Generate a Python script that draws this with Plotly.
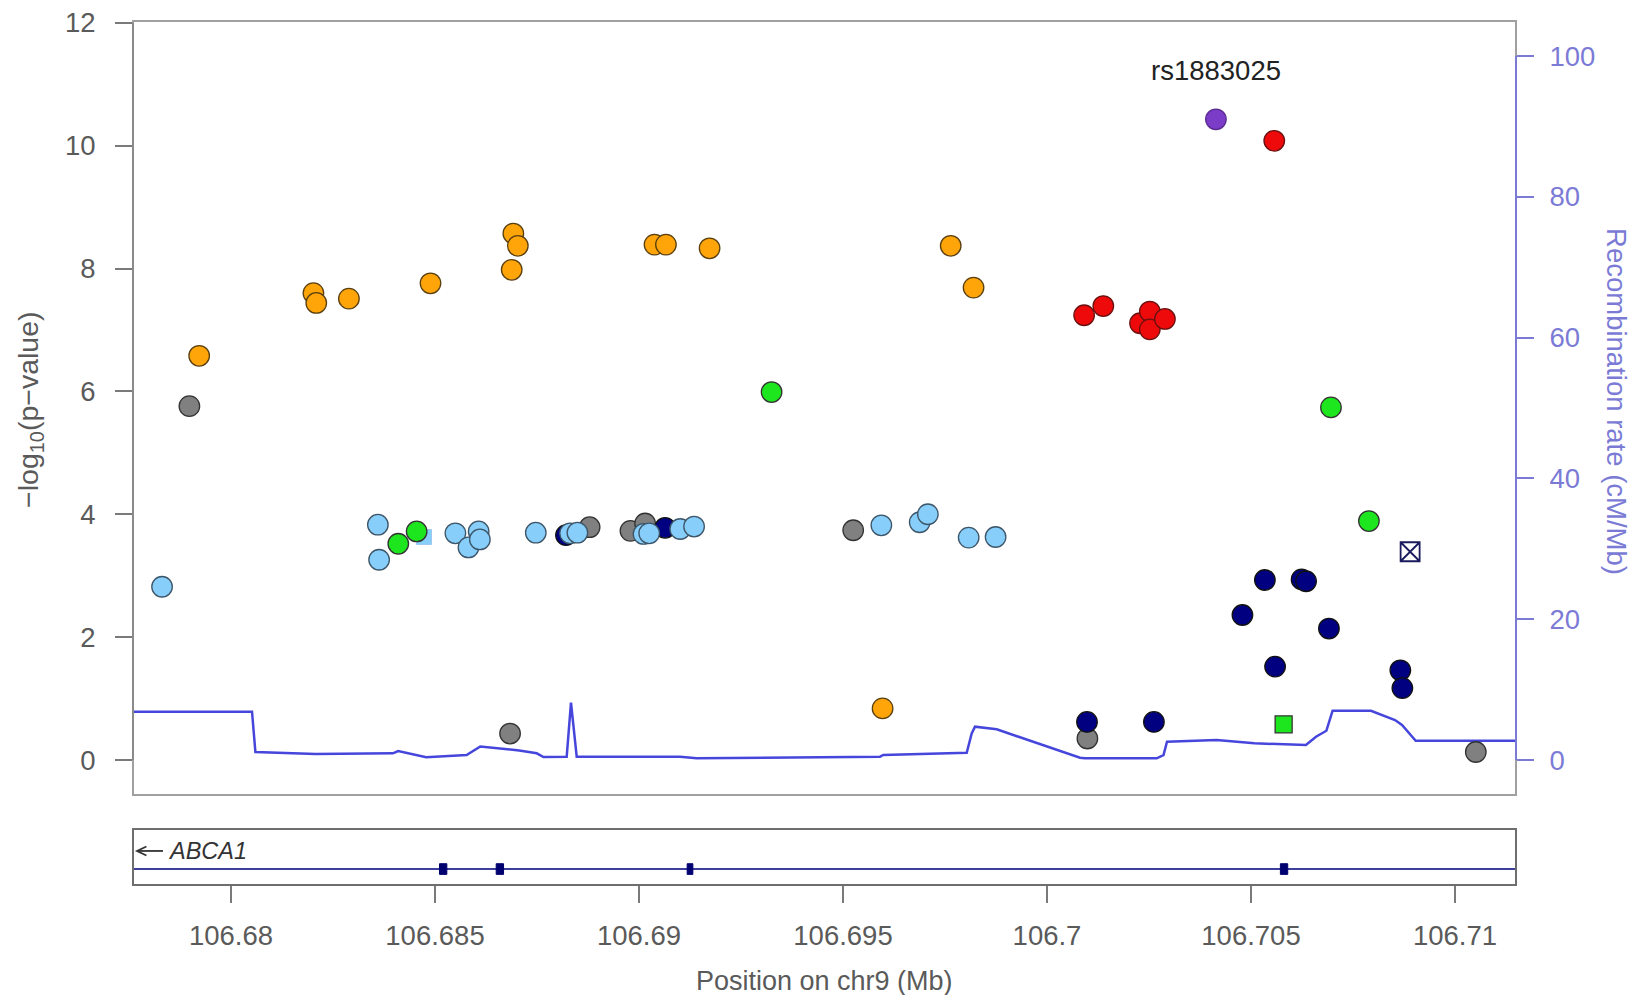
import plotly.graph_objects as go

# ---------------- data ----------------
gray_pos = [106.67898, 106.68684, 106.68879, 106.68979, 106.69015, 106.69525, 106.70099, 106.71051]
gray_logp = [5.76, 0.43, 3.79, 3.73, 3.85, 3.74, 0.35, 0.13]

navy_pos = [106.68821, 106.69064, 106.70098, 106.70262, 106.70479, 106.70534,
            106.70624, 106.70635, 106.70559, 106.70691, 106.70866, 106.70871]
navy_logp = [3.66, 3.78, 0.62, 0.62, 2.36, 2.93, 2.94, 2.91, 1.52, 2.14, 1.46, 1.17]

lb_pos = [106.67831, 106.68360, 106.68363, 106.68550, 106.68607, 106.68582, 106.68610,
          106.68747, 106.68831, 106.68849, 106.69011, 106.69025, 106.69101, 106.69135,
          106.69594, 106.69688, 106.69708, 106.69808, 106.69874]
lb_logp = [2.82, 3.83, 3.26, 3.69, 3.72, 3.46, 3.59, 3.70, 3.69, 3.70, 3.68, 3.69,
           3.76, 3.80, 3.82, 3.87, 4.00, 3.62, 3.63]

green_pos = [106.68410, 106.68455, 106.69325, 106.70696, 106.70789]
green_logp = [3.52, 3.72, 5.99, 5.74, 3.89]

orange_pos = [106.67922, 106.68202, 106.68209, 106.68289, 106.68489, 106.68692, 106.68703,
              106.68688, 106.69038, 106.69066, 106.69173, 106.69764, 106.69820, 106.69597]
orange_logp = [6.58, 7.60, 7.44, 7.51, 7.76, 8.57, 8.37, 7.98, 8.39, 8.39, 8.33, 8.37, 7.69, 0.84]

red_pos = [106.70091, 106.70138, 106.70228, 106.70252, 106.70252, 106.70289, 106.70557]
red_logp = [7.24, 7.39, 7.11, 7.30, 7.01, 7.18, 10.08]

lead_pos = [106.70414]
lead_logp = [10.43]
lead_name = "rs1883025"
lead_label_logp = 11.23

lb_sq_pos = [106.68473]
lb_sq_logp = [3.63]
green_sq_pos = [106.70580]
green_sq_logp = [0.58]
na_sq_pos = [106.70890]
na_sq_logp = [3.39]

recomb_pos = [106.6770, 106.680515, 106.680598, 106.682076, 106.683968, 106.684098, 106.684784,
              106.685775, 106.686110, 106.687064, 106.687493, 106.687659, 106.688228, 106.688333,
              106.688473, 106.691005, 106.691414, 106.695907, 106.695988, 106.698032, 106.698154,
              106.698235, 106.698767, 106.700809, 106.700931, 106.702689, 106.702855, 106.702941,
              106.704159, 106.705083, 106.706346, 106.706593, 106.706848, 106.707000, 106.707941,
              106.708529, 106.708701, 106.709037, 106.7120]
recomb_rate = [6.86, 6.86, 1.14, 0.85, 0.95, 1.28, 0.38, 0.71, 1.92, 1.35, 0.95, 0.43, 0.47, 8.14,
               0.47, 0.47, 0.24, 0.47, 0.71, 1.04, 3.79, 4.73, 4.36, 0.33, 0.24, 0.24, 0.71, 2.60,
               2.84, 2.37, 2.13, 3.31, 4.16, 7.00, 7.00, 5.68, 4.97, 2.74, 2.74]

gene_name = "ABCA1"
gene_start = 106.5831
gene_end = 106.7303
exon_start = [106.68511, 106.68650, 106.69118, 106.70572]
exon_end = [106.68529, 106.68668, 106.69132, 106.70590]

x_ticks = [106.68, 106.685, 106.69, 106.695, 106.70, 106.705, 106.71]
x_ticklabels = ["106.68", "106.685", "106.69", "106.695", "106.7", "106.705", "106.71"]
logp_ticks = [0, 2, 4, 6, 8, 10, 12]
recomb_ticks = [0, 20, 40, 60, 80, 100]

x_range = [106.677598, 106.711495]
logp_range = [-0.57, 12.03]
recomb_range = [-4.97, 104.97]

# ---------------- styling ----------------
FONT = "Liberation Sans, Arial, sans-serif"
TXT = "#5a5a5a"
BLUE_AX = "#7b7bd6"
FS = 27.5
MS = 20.5
EDGE = dict(color="#333333", width=1.3)

fig = go.Figure()

# recombination line (base subplot, drawn underneath the points)
fig.add_trace(go.Scatter(x=recomb_pos, y=recomb_rate, mode="lines", xaxis="x", yaxis="y",
                         line=dict(color="#4646dc", width=2.5), hoverinfo="skip", showlegend=False))

def pts(xs, ys, fill, symbol="circle", size=MS, line=EDGE):
    fig.add_trace(go.Scatter(x=xs, y=ys, mode="markers", xaxis="x", yaxis="y2",
                             marker=dict(color=fill, size=size, symbol=symbol, line=line),
                             showlegend=False))

pts(gray_pos, gray_logp, "#808080")
pts(navy_pos, navy_logp, "#000080", line=dict(color="#111111", width=1.3))
pts(lb_sq_pos, lb_sq_logp, "#87cefa", symbol="square", size=15, line=dict(color="#9fc8ef", width=1))
pts(lb_pos, lb_logp, "#87cefa", line=dict(color="#3c5568", width=1.3))
pts(green_pos, green_logp, "#1ee61e")
pts(green_sq_pos, green_sq_logp, "#1ee61e", symbol="square", size=17)
pts(orange_pos, orange_logp, "#ffa50a", line=dict(color="#5a4010", width=1.3))
pts(red_pos, red_logp, "#ee0a0a", line=dict(color="#6a1010", width=1.3))
pts(lead_pos, lead_logp, "#7b3cc8", line=dict(color="#5a2a90", width=1.3))
pts(na_sq_pos, na_sq_logp, "#1a1a5e", symbol="square-x-open", size=19,
    line=dict(color="#1a1a5e", width=1.8))

# gene panel
fig.add_trace(go.Scatter(x=[gene_start, gene_end], y=[0.286, 0.286], mode="lines",
                         xaxis="x2", yaxis="y3", line=dict(color="#3e3e9c", width=2),
                         hoverinfo="skip", showlegend=False))

shapes = []
for s, e in zip(exon_start, exon_end):
    shapes.append(dict(type="rect", xref="x2", yref="y3", x0=s, x1=e, y0=0.19, y1=0.38,
                       fillcolor="#000070", line=dict(color="#000070", width=1)))
# frames
shapes.append(dict(type="rect", xref="x domain", yref="y domain", x0=0, x1=1, y0=0, y1=1,
                   line=dict(color="#a0a0a0", width=2)))
shapes.append(dict(type="rect", xref="x2 domain", yref="y3 domain", x0=0, x1=1, y0=0, y1=1,
                   line=dict(color="#6e6e6e", width=2)))
# axis lines spanning the tick range (R style)
shapes.append(dict(type="line", xref="x domain", yref="y", x0=1, x1=1, y0=0, y1=100,
                   line=dict(color=BLUE_AX, width=2)))
shapes.append(dict(type="line", xref="x domain", yref="y2", x0=0, x1=0, y0=0, y1=12,
                   line=dict(color="#8a8a8a", width=2)))
# strand arrow (minus strand) next to the gene name
ax_tip, ax_len, ay_mid = 0.0029, 0.0188, 0.0394
shapes.append(dict(type="line", xref="paper", yref="paper", x0=ax_tip, x1=ax_tip + ax_len,
                   y0=ay_mid, y1=ay_mid, line=dict(color="#333333", width=1.8)))
shapes.append(dict(type="path", xref="paper", yref="paper",
                   path=f"M {ax_tip + 0.0068},{ay_mid + 0.0052} L {ax_tip},{ay_mid} "
                        f"L {ax_tip + 0.0068},{ay_mid - 0.0052}",
                   line=dict(color="#333333", width=1.8)))

annotations = [
    dict(xref="x", yref="y2", x=lead_pos[0], y=lead_label_logp, text=lead_name, showarrow=False,
         font=dict(family=FONT, size=FS, color="#222222")),
    dict(xref="paper", yref="paper", x=-0.0745, y=0.5498, text="\u2212log<sub>10</sub>(p\u2212value)",
         textangle=-90, showarrow=False, xanchor="center", yanchor="middle",
         font=dict(family=FONT, size=28.5, color=TXT)),
    dict(xref="paper", yref="paper", x=1.073, y=0.559, text="Recombination rate (cM/Mb)",
         textangle=90, showarrow=False, xanchor="center", yanchor="middle",
         font=dict(family=FONT, size=FS, color=BLUE_AX)),
    dict(xref="paper", yref="paper", x=0.5, y=-0.1106, text="Position on chr9 (Mb)",
         showarrow=False, xanchor="center", yanchor="middle",
         font=dict(family=FONT, size=27, color=TXT)),
    dict(xref="paper", yref="paper", x=0.0239, y=0.0394, text="<i>" + gene_name + "</i>",
         showarrow=False, xanchor="left", yanchor="middle",
         font=dict(family=FONT, size=23.5, color="#333333")),
]

# the page body adds an 8px margin, so the figure is 8px smaller than the window
fig.update_layout(
    width=1630, height=987,
    margin=dict(l=125, r=122, t=13, b=110, autoexpand=False),
    paper_bgcolor="white", plot_bgcolor="white",
    font=dict(family=FONT, size=FS, color=TXT),
    showlegend=False,
    xaxis=dict(domain=[0, 1], range=x_range, anchor="y", showticklabels=False, ticks="",
               showgrid=False, zeroline=False, showline=False, automargin=False),
    yaxis=dict(domain=[0.10417, 1], range=recomb_range, anchor="x", side="right",
               tickvals=recomb_ticks, ticks="outside", ticklen=17, tickwidth=1.5,
               tickcolor=BLUE_AX, tickfont=dict(family=FONT, size=FS, color=BLUE_AX),
               ticklabelstandoff=10, ticklabeloverflow="allow", automargin=False,
               showgrid=False, zeroline=False, showline=False),
    yaxis2=dict(range=logp_range, overlaying="y", anchor="x", side="left",
                tickvals=logp_ticks, ticks="outside", ticklen=17, tickwidth=1.5,
                tickcolor="#7a7a7a", tickfont=dict(family=FONT, size=FS, color=TXT),
                ticklabelstandoff=14, ticklabeloverflow="allow", automargin=False,
                showgrid=False, zeroline=False, showline=False),
    xaxis2=dict(domain=[0, 1], range=x_range, anchor="y3", tickvals=x_ticks,
                ticktext=x_ticklabels, ticks="outside", ticklen=17, tickwidth=1.5,
                tickcolor="#7a7a7a", tickfont=dict(family=FONT, size=FS, color=TXT),
                ticklabelstandoff=9, ticklabeloverflow="allow", automargin=False,
                showgrid=False, zeroline=False, showline=False),
    yaxis3=dict(domain=[0, 0.06481], range=[0, 1], anchor="x2", showticklabels=False,
                ticks="", showgrid=False, zeroline=False, showline=False, automargin=False),
    shapes=shapes,
    annotations=annotations,
)

fig.write_html("out.html")
